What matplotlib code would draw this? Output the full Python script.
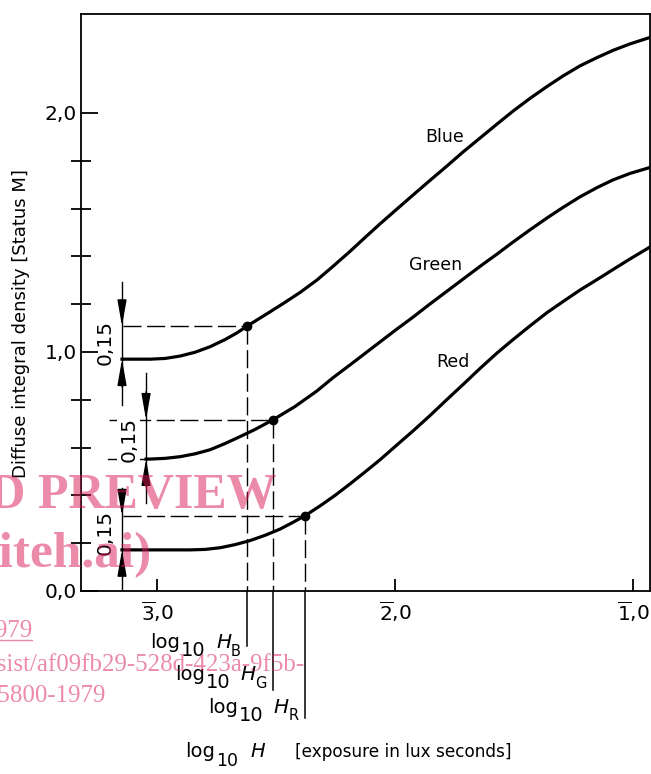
import matplotlib.pyplot as plt
from matplotlib.lines import Line2D
from matplotlib.transforms import IdentityTransform

plt.rcParams['font.family'] = 'DejaVu Sans'
plt.rcParams['mathtext.fontset'] = 'dejavusans'

# characteristic curves, log10 H vs diffuse density
blue_x = [-3.147, -3.029, -2.966, -2.903, -2.840, -2.777, -2.714, -2.664, -2.622,
          -2.546, -2.471, -2.399, -2.328, -2.261, -2.189, -2.126, -2.063, -1.992,
          -1.924, -1.853, -1.782, -1.714, -1.643, -1.571, -1.504, -1.433, -1.361,
          -1.294, -1.223, -1.151, -1.084, -1.013, -0.929]
blue_y = [0.970, 0.970, 0.973, 0.983, 0.999, 1.022, 1.052, 1.080, 1.108,
          1.155, 1.202, 1.249, 1.301, 1.358, 1.421, 1.479, 1.536, 1.598,
          1.657, 1.718, 1.778, 1.837, 1.895, 1.954, 2.008, 2.061, 2.111,
          2.155, 2.197, 2.232, 2.262, 2.289, 2.316]

green_x = [-3.046, -3.029, -2.966, -2.903, -2.840, -2.777, -2.714, -2.651, -2.588,
           -2.513, -2.420, -2.328, -2.261, -2.189, -2.126, -2.063, -1.992, -1.924,
           -1.853, -1.782, -1.714, -1.643, -1.571, -1.504, -1.433, -1.361, -1.294,
           -1.223, -1.151, -1.084, -1.013, -0.929]
green_y = [0.552, 0.552, 0.555, 0.562, 0.574, 0.591, 0.617, 0.646, 0.676,
           0.716, 0.772, 0.837, 0.892, 0.946, 0.994, 1.042, 1.096, 1.146,
           1.201, 1.254, 1.305, 1.358, 1.410, 1.460, 1.511, 1.561, 1.605,
           1.649, 1.688, 1.720, 1.747, 1.772]

red_x = [-3.147, -2.861, -2.798, -2.735, -2.672, -2.609, -2.546, -2.483, -2.433,
         -2.378, -2.315, -2.252, -2.189, -2.126, -2.063, -1.992, -1.924, -1.853,
         -1.782, -1.714, -1.643, -1.571, -1.504, -1.433, -1.361, -1.294, -1.223,
         -1.151, -1.084, -1.013, -0.929]
red_y = [0.172, 0.172, 0.174, 0.181, 0.194, 0.211, 0.233, 0.259, 0.285,
         0.315, 0.356, 0.400, 0.448, 0.498, 0.549, 0.611, 0.670, 0.734,
         0.801, 0.864, 0.931, 0.996, 1.052, 1.109, 1.165, 1.211, 1.259,
         1.303, 1.345, 1.389, 1.439]

# speed points: base density, density base + 0.15, log10 H at that point
names = ['Blue', 'Green', 'Red']
subs = ['B', 'G', 'R']
base_d = [0.970, 0.552, 0.172]
point_d = [1.108, 0.716, 0.315]
point_logh = [-2.622, -2.513, -2.378]
arrow_logh = [-3.147, -3.046, -3.147]

name_x = [-1.790, -1.828, -1.756]
name_y = [1.900, 1.364, 0.958]

xticks = [-3, -2, -1]
xticklabels = [r'$\overline{3}$,0', r'$\overline{2}$,0', r'$\overline{1}$,0']
yticks = [0, 1, 2]
yticklabels = ['0,0', '1,0', '2,0']
yminor = [0.2, 0.4, 0.6, 0.8, 1.2, 1.4, 1.6, 1.8]

W, H = 651, 774
fig = plt.figure(figsize=(W / 100, H / 100), dpi=100)
ax = fig.add_axes([81 / W, 1 - 591 / H, 569 / W, 577 / H])
ax.set_xlim(-3.3193, -0.9286)
ax.set_ylim(0, 2.4142)

for s in ax.spines.values():
    s.set_linewidth(1.3)

for xs, ys in [(blue_x, blue_y), (green_x, green_y), (red_x, red_y)]:
    ax.plot(xs, ys, color='k', lw=2.3, solid_joinstyle='round')
ax.plot(point_logh, point_d, 'o', color='k', ms=6, zorder=5)

for name, x, y in zip(names, name_x, name_y):
    ax.text(x, y, name, fontsize=12.5, ha='center', va='center')

# extra room above / below the 0,15 interval for the arrow lines (px -> data)
above = [44 / 239, 47 / 239, 28 / 239]
below = [46 / 239, 44 / 239, 40 / 239]
below_axis = [55 / 239, 99 / 239, 127 / 239]
label_base = [648, 680, 713]   # baseline of the log10 H_x labels, px from top

dash = (13, 4)
for i in range(3):
    ax_x = arrow_logh[i]
    start = ax_x if i != 1 else -3.206
    ax.plot([start + 0.004, point_logh[i]], [point_d[i], point_d[i]],
            color='k', lw=1.0, dashes=dash)
    ax.plot([point_logh[i], point_logh[i]], [point_d[i], 0],
            color='k', lw=1.0, dashes=dash)
    ax.plot([point_logh[i], point_logh[i]], [0, -below_axis[i]],
            color='k', lw=1.1, clip_on=False)
    ax.plot([ax_x, ax_x], [base_d[i] - below[i], point_d[i] + above[i]],
            color='k', lw=1.0)
    head = dict(arrowstyle='-|>,head_length=1.6,head_width=0.28', color='k',
                lw=1.0, shrinkA=0, shrinkB=0, mutation_scale=10)
    ax.annotate('', xy=(ax_x, point_d[i]), xytext=(ax_x, point_d[i] + above[i] * 0.6),
                arrowprops=head)
    ax.annotate('', xy=(ax_x, base_d[i]), xytext=(ax_x, base_d[i] - below[i] * 0.6),
                arrowprops=head)
    if i == 1:
        ax.plot([start, ax_x], [base_d[i], base_d[i]], color='k', lw=1.0)
    ax.annotate('0,15', xy=(ax_x, (base_d[i] + point_d[i]) / 2),
                xytext=(-12.5, 0), textcoords='offset points',
                rotation=90, ha='center', va='center', fontsize=14.5,
                bbox=dict(fc='white', ec='none', pad=1.5) if i == 1 else None)

ax.set_xticks(xticks)
ax.set_xticklabels(xticklabels)
ax.set_yticks(yticks)
ax.set_yticklabels(yticklabels)
ax.set_yticks(yminor, minor=True)
ax.tick_params(axis='x', direction='in', length=9, width=1.3, pad=6, labelsize=14.5)
ax.tick_params(axis='y', which='major', direction='in', length=12, width=1.3,
               pad=3, labelsize=14.5)
ax.tick_params(axis='y', which='minor', direction='inout', length=14, width=1.3)

renderer = fig.canvas.get_renderer()


def compound(pieces, x, y, align='left'):
    # pieces: (text, size, drop in px, style, gap before in px); x, y in px from top-left
    placed = []
    total = 0
    for txt, size, drop, style, gap in pieces:
        t = fig.text(0, 0, txt, fontsize=size, style=style)
        w = t.get_window_extent(renderer).width
        t.remove()
        placed.append((txt, size, drop, style, total + gap))
        total += gap + w
    x0 = x - total if align == 'right' else x
    for txt, size, drop, style, off in placed:
        fig.text(x0 + off, H - y - drop, txt, fontsize=size, style=style,
                 ha='left', va='baseline', transform=IdentityTransform())


for i in range(3):
    line_px = ax.transData.transform((point_logh[i], 0))[0]
    compound([('log', 14, 0, 'normal', 0), ('10', 14, 8, 'normal', 1),
              ('H', 14.5, 0, 'italic', 10), (subs[i], 10.5, 7.5, 'normal', 0)],
             line_px - 6, label_base[i], align='right')

fig.text(21 / W, 1 - 324 / H, 'Diffuse integral density [Status M]', rotation=90,
         ha='center', va='center', fontsize=13)
compound([('log', 14, 0, 'normal', 0), ('10', 12.5, 8.5, 'normal', 1.5),
          ('H', 14, 0, 'italic', 12)], 185, 757)
fig.text(295 / W, 1 - 757 / H, '[exposure in lux seconds]', ha='left', va='baseline',
         fontsize=12.2)

# preview watermark over the page
wm = (217 / 255, 25 / 255, 85 / 255)
wm_kw = dict(color=wm, alpha=0.5, family='Liberation Serif', ha='right', va='baseline')
fig.text(277 / W, 1 - 508 / H, 'STANDARD PREVIEW', fontsize=36, fontweight='bold', **wm_kw)
fig.text(152 / W, 1 - 567 / H, '(standards.iteh.ai)', fontsize=37, fontweight='bold', **wm_kw)
fig.text(32 / W, 1 - 637 / H, 'ISO 5800:1979', fontsize=18, **wm_kw)
fig.add_artist(Line2D([0, 32 / W], [1 - 640 / H, 1 - 640 / H], color=wm, alpha=0.5, lw=1))
fig.text(305 / W, 1 - 671 / H, 'https://standards.iteh.ai/catalog/standards/sist/af09fb29-528d-423a-9f5b-',
         fontsize=18, **wm_kw)
fig.text(106 / W, 1 - 702 / H, 'iso-5800-1979', fontsize=18, **wm_kw)

fig.savefig('out.png', dpi=100)
